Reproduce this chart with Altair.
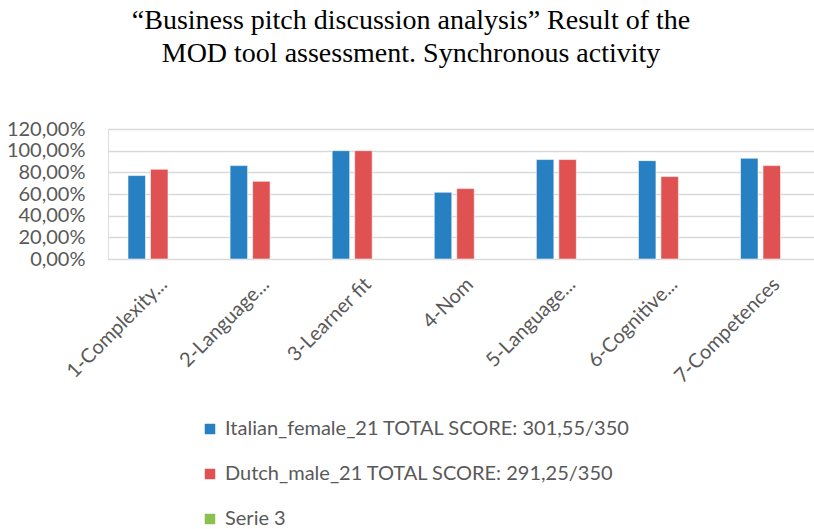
import altair as alt
import pandas as pd

# MOD tool criteria (x axis)
categories = [
    "1-Complexity...",
    "2-Language...",
    "3-Learner fit",
    "4-Nom",
    "5-Language...",
    "6-Cognitive...",
    "7-Competences",
]

series_names = [
    "Italian_female_21 TOTAL SCORE: 301,55/350",
    "Dutch_male_21 TOTAL SCORE: 291,25/350",
    "Serie 3",
]

# Scores per criterion (fraction of the maximum)
italian_female = [0.77, 0.862, 1.0, 0.616, 0.918, 0.908, 0.93]
dutch_male = [0.828, 0.717, 1.0, 0.65, 0.918, 0.761, 0.862]

series_colors = ["#2680C2", "#E05252", "#8CC152"]
y_ticks = [0.0, 0.2, 0.4, 0.6, 0.8, 1.0, 1.2]

rows = []
for cat, v in zip(categories, italian_female):
    rows.append({"criterion": cat, "series": series_names[0], "score": v})
for cat, v in zip(categories, dutch_male):
    rows.append({"criterion": cat, "series": series_names[1], "score": v})
df = pd.DataFrame(rows)

axis_font = "Lato"
axis_color = "#595959"

bars = (
    alt.Chart(df)
    .mark_bar(stroke="white", strokeWidth=0.8, strokeOpacity=0.7)
    .encode(
        x=alt.X(
            "criterion:N",
            sort=categories,
            title=None,
            scale=alt.Scale(paddingInner=0.2163, paddingOuter=0.066, align=0),
            axis=alt.Axis(
                labelAngle=-45,
                labelAlign="right",
                labelBaseline="middle",
                labelOffset=16,
                labelPadding=22,
                labelFont=axis_font,
                labelFontSize=20,
                labelColor=axis_color,
                labelLimit=300,
                ticks=False,
                domain=False,
            ),
        ),
        xOffset=alt.XOffset(
            "series:N",
            scale=alt.Scale(
                domain=series_names[:2], paddingInner=0.222, paddingOuter=0.889
            ),
        ),
        y=alt.Y(
            "score:Q",
            title=None,
            scale=alt.Scale(domain=[0, 1.2], nice=False),
            axis=alt.Axis(
                values=y_ticks,
                labelExpr="replace(format(datum.value, '.2%'), '.', ',')",
                labelFont=axis_font,
                labelFontSize=20,
                labelColor=axis_color,
                labelPadding=23,
                ticks=False,
                domain=False,
                gridColor="#D9D9D9",
                gridWidth=1.5,
            ),
        ),
        color=alt.Color(
            "series:N",
            title=None,
            scale=alt.Scale(domain=series_names, range=series_colors),
            legend=alt.Legend(
                orient="none",
                legendX=92,
                legendY=290,
                direction="vertical",
                symbolType="square",
                symbolSize=110,
                symbolStrokeWidth=0,
                labelFont=axis_font,
                labelFontSize=20,
                labelColor=axis_color,
                labelLimit=0,
                labelOffset=5,
                rowPadding=25,
            ),
        ),
    )
)

chart = (
    bars.properties(
        width=706,
        height=130,
        autosize=alt.AutoSizeParams(type="none"),
        padding={"left": 108, "top": 129, "right": 0, "bottom": 270},
        title=alt.TitleParams(
            text=[
                "\u201cBusiness pitch discussion analysis\u201d Result of the",
                "MOD tool assessment. Synchronous activity",
            ],
            font="Liberation Serif",
            fontSize=28,
            fontWeight="normal",
            color="black",
            anchor="middle",
            frame="group",
            dx=-50,
            offset=51,
            lineHeight=33,
        ),
    )
    .configure_view(stroke=None)
    .configure(background="white")
)

chart.save("out.html", embed_options={"renderer": "svg", "actions": False})
